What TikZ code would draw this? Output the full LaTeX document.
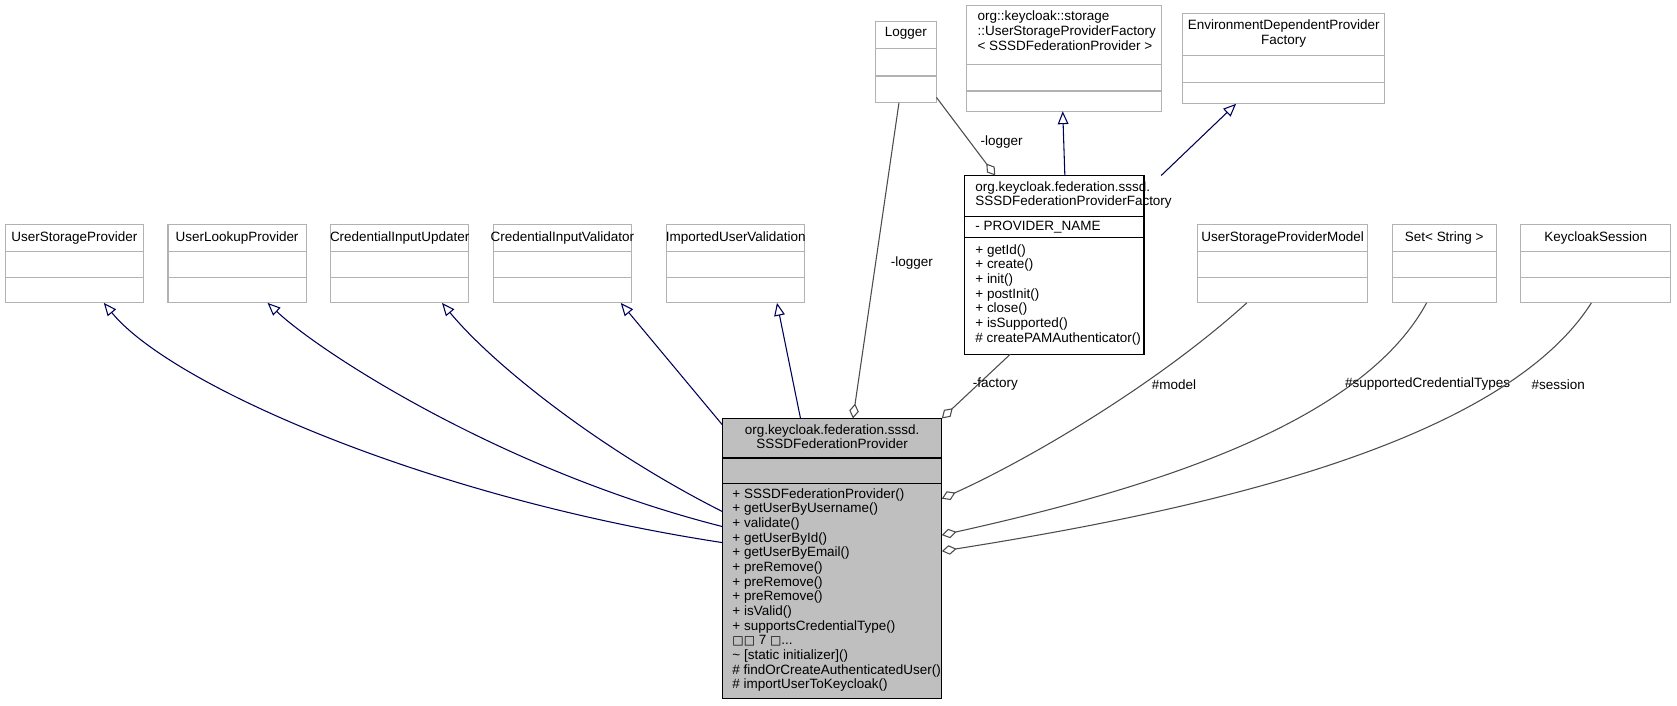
\documentclass[tikz,border=0pt]{standalone}
\usepackage{fontspec}
\setmainfont{Liberation Sans}
\newfontfamily\djfont{DejaVu Sans}
\usetikzlibrary{arrows.meta}
\begin{document}
\begin{tikzpicture}[x=0.5pt,y=-0.5pt,font=\fontsize{6.3}{6.85}\selectfont,
  gbox/.style={draw=black!30,line width=0.5pt},
  bbox/.style={draw=black,line width=0.6pt},
  txt/.style={inner sep=0pt,align=left,anchor=north west},
  ctxt/.style={inner sep=0pt,align=center,anchor=north},
  inh/.style={draw=blue!35!black,line width=0.5pt,-{Triangle[open,length=6pt,width=5pt]}},
  agg/.style={draw=black!70,line width=0.5pt,-{Diamond[open,length=7pt,width=4.5pt]}},
  lbl/.style={inner sep=0pt}]
\useasboundingbox (0,0) rectangle (1567,659);
\newcommand{\cbox}[7]{%
  \node[#7,minimum width=(#4-#2)*0.5pt,minimum height=(#5-#3)*0.5pt,inner sep=0pt] (#1) at ({(#2+#4)/2},{(#3+#5)/2}) {};
  \draw[#7] (#2,#6) -- (#4,#6);}
% gray boxes
\cbox{usp}{5}{210}{134}{283}{235}{gbox}\draw[gbox](5,259)--(134,259);
\cbox{ulp}{157}{210}{286}{283}{235}{gbox}\draw[gbox](157,259)--(286,259);
\cbox{ciu}{309}{210}{438}{283}{235}{gbox}\draw[gbox](309,259)--(438,259);
\cbox{civ}{461}{210}{590}{283}{235}{gbox}\draw[gbox](461,259)--(590,259);
\cbox{iuv}{623}{210}{752}{283}{235}{gbox}\draw[gbox](623,259)--(752,259);
\cbox{uspm}{1119}{210}{1278}{283}{235}{gbox}\draw[gbox](1119,259)--(1278,259);
\cbox{set}{1301}{210}{1398}{283}{235}{gbox}\draw[gbox](1301,259)--(1398,259);
\cbox{ks}{1421}{210}{1561}{283}{235}{gbox}\draw[gbox](1421,259)--(1561,259);
\cbox{log}{818}{20}{875}{96}{45}{gbox}\draw[gbox](818,71)--(875,71);
\cbox{uspf}{903}{5}{1085}{104}{60}{gbox}\draw[gbox](903,85)--(1085,85);
\cbox{edp}{1105}{13}{1294}{97}{52}{gbox}\draw[gbox](1105,77)--(1294,77);
\node[ctxt] at (69.5,216) {UserStorageProvider};
\node[ctxt] at (221.5,216) {UserLookupProvider};
\node[ctxt] at (373.5,216) {CredentialInputUpdater};
\node[ctxt] at (525.5,216) {CredentialInputValidator};
\node[ctxt] at (687.5,216) {ImportedUserValidation};
\node[ctxt] at (1198.5,216) {UserStorageProviderModel};
\node[ctxt] at (1349.5,216) {Set< String >};
\node[ctxt] at (1491,216) {KeycloakSession};
\node[ctxt] at (846.5,25) {Logger};
\node[txt] at (913,10) {org::keycloak::storage\\::UserStorageProviderFactory\\< SSSDFederationProvider >};
\node[ctxt] at (1199.5,18) {EnvironmentDependentProvider\\Factory};
% factory
\cbox{fac}{901}{164}{1069}{331}{202}{bbox}\draw[bbox](901,222)--(1069,222);
\node[txt] at (911,169) {org.keycloak.federation.sssd.\\SSSDFederationProviderFactory};
\node[txt] at (911,206) {- PROVIDER\_NAME};
\node[txt] at (911,228) {+ getId()\\+ create()\\+ init()\\+ postInit()\\+ close()\\+ isSupported()\\\# createPAMAuthenticator()};
% main
\fill[black!25] (675,391) rectangle (880,653);
\cbox{main}{675}{391}{880}{653}{428}{bbox}\draw[bbox](675,452)--(880,452);
\node[ctxt] at (777.5,396) {org.keycloak.federation.sssd.\\SSSDFederationProvider};
\node[txt] at (684,456) {+ SSSDFederationProvider()\\+ getUserByUsername()\\+ validate()\\+ getUserById()\\+ getUserByEmail()\\+ preRemove()\\+ preRemove()\\+ preRemove()\\+ isValid()\\+ supportsCredentialType()\\{\djfont\fontsize{5.6}{6.85}\selectfont □□} 7 {\djfont\fontsize{5.6}{6.85}\selectfont □}...\\\textasciitilde{} [static initializer]()\\\# findOrCreateAuthenticatedUser()\\\# importUserToKeycloak()};
% inheritance
\draw[inh] (675,507) .. controls (400,465) and (160,360) .. (97,283);
\draw[inh] (675,492) .. controls (470,440) and (300,330) .. (250,283);
\draw[inh] (675,478) .. controls (560,420) and (460,340) .. (413,283);
\draw[inh] (675,397) -- (580,283);
\draw[inh] (748,391) -- (726,283);
\draw[inh] (995,164) -- (993,104);
\draw[inh] (1085,164) -- (1155,97);
% aggregation
\draw[agg] (840,96) -- (797,391);
\node[lbl] at (852,246) {-logger};
\draw[agg] (875,91) -- (930,164);
\node[lbl] at (936,133) {-logger};
\draw[agg] (944,331) -- (880,391);
\node[lbl] at (930,359) {-factory};
\draw[agg] (1165,283) .. controls (1080,360) and (960,430) .. (880,466);
\node[lbl] at (1097,359) {\#model};
\draw[agg] (1333,283) .. controls (1270,400) and (1060,460) .. (880,500);
\node[lbl] at (1334,359) {\#supportedCredentialTypes};
\draw[agg] (1487,283) .. controls (1400,420) and (1100,480) .. (880,515);
\node[lbl] at (1456,359) {\#session};
\end{tikzpicture}
\end{document}
